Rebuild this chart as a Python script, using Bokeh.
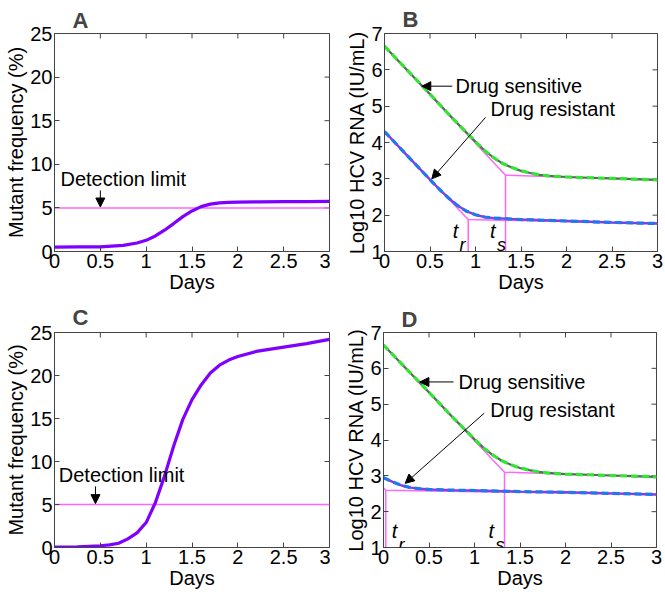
import math
from bokeh.plotting import figure
from bokeh.layouts import column, row
from bokeh.models import Range1d, FixedTicker, Label, Arrow, NormalHead
from bokeh.embed import file_html
from bokeh.resources import INLINE

# ---------------- data ----------------
x_ticks = [0, 0.5, 1, 1.5, 2, 2.5, 3]
x_tick_labels = ["0", "0.5", "1", "1.5", "2", "2.5", "3"]
freq_ticks = [0, 5, 10, 15, 20, 25]
rna_ticks = [1, 2, 3, 4, 5, 6, 7]

detection_limit = 5

days_A = [0, 0.25, 0.5, 0.75, 0.9, 1.0, 1.1, 1.2, 1.3, 1.4, 1.5, 1.6, 1.7, 1.8, 1.9, 2.0, 2.25, 2.5, 2.75, 3.0]
freq_A = [0.5, 0.52, 0.54, 0.7, 0.97, 1.28, 1.78, 2.44, 3.2, 4.0, 4.65, 5.15, 5.43, 5.58, 5.63, 5.66, 5.69, 5.71, 5.73, 5.74]

days_C = [0, 0.25, 0.5, 0.6, 0.7, 0.8, 0.9, 1.0, 1.1, 1.2, 1.3, 1.4, 1.5, 1.6, 1.7, 1.8, 1.9, 2.0, 2.2, 2.5, 2.75, 3.0]
freq_C = [0.05, 0.08, 0.2, 0.3, 0.5, 1.0, 1.7, 2.9, 5.2, 8.3, 11.8, 14.9, 17.2, 18.9, 20.3, 21.2, 21.8, 22.2, 22.8, 23.3, 23.7, 24.2]

days_sens = [0, 0.25, 0.5, 0.75, 1.0, 1.1, 1.2, 1.3, 1.4, 1.5, 1.6, 1.7, 1.8, 2.0, 2.25, 2.5, 2.75, 3.0]
rna_sens = [6.65, 5.99, 5.33, 4.66, 4.02, 3.78, 3.58, 3.42, 3.31, 3.22, 3.16, 3.11, 3.08, 3.05, 3.03, 3.01, 2.99, 2.97]

days_res_B = [0, 0.25, 0.5, 0.6, 0.7, 0.8, 0.9, 1.0, 1.1, 1.2, 1.35, 1.5, 1.75, 2.0, 2.5, 3.0]
rna_res_B = [4.3, 3.64, 2.98, 2.72, 2.48, 2.27, 2.11, 2.01, 1.95, 1.92, 1.9, 1.88, 1.86, 1.84, 1.8, 1.77]

days_res_D = [0, 0.1, 0.2, 0.3, 0.4, 0.5, 0.75, 1.0, 1.5, 2.0, 2.5, 3.0]
rna_res_D = [2.95, 2.83, 2.73, 2.67, 2.64, 2.62, 2.6, 2.59, 2.56, 2.54, 2.51, 2.48]

# piecewise approximations (pink)
approx_sens_x = [0, 1.33, 3]
approx_sens_y = [6.65, 3.1, 2.97]
ts = 1.33
approx_res_B_x = [0, 0.92, 3]
approx_res_B_y = [4.3, 1.88, 1.77]
tr_B = 0.92
approx_res_D_x = [0, 0.025, 3]
approx_res_D_y = [2.67, 2.6, 2.48]
tr_D = 0.025

# ---------------- style ----------------
FONT = "Liberation Sans"
FS = "20px"
PURPLE = "#7f00ff"
PINK = "#ff66ff"
GREEN = "#33e633"
BLUE = "#2277ee"
AXC = "#444444"


def make_fig(letter, standoff, width, height, left, right, top, bottom, yr, yticks, ylabel):
    p = figure(width=width, height=height, output_backend="svg", toolbar_location=None,
               x_range=Range1d(0, 3), y_range=Range1d(*yr),
               min_border_left=left, min_border_right=right,
               min_border_top=top, min_border_bottom=bottom)
    p.grid.visible = False
    p.outline_line_color = AXC
    p.background_fill_color = "white"
    p.border_fill_color = "white"
    p.title.text = letter
    p.title.text_font = FONT
    p.title.text_font_size = "22px"
    p.title.text_font_style = "bold"
    p.title.align = "left"
    p.title.offset = 18
    p.title.standoff = standoff
    p.xaxis.ticker = FixedTicker(ticks=x_ticks)
    p.yaxis.ticker = FixedTicker(ticks=yticks)
    p.xaxis.major_label_overrides = {t: l for t, l in zip(x_ticks, x_tick_labels)}
    p.xaxis.axis_label = "Days"
    p.yaxis.axis_label = ylabel
    for ax in (p.xaxis[0], p.yaxis[0]):
        ax.major_tick_in = 5
        ax.major_tick_out = 0
        ax.minor_tick_in = 0
        ax.minor_tick_out = 0
        ax.axis_line_color = AXC
        ax.major_tick_line_color = AXC
        ax.major_label_text_font = FONT
        ax.major_label_text_font_size = FS
        ax.major_label_text_color = "black"
        ax.axis_label_text_font = FONT
        ax.axis_label_text_font_size = FS
        ax.axis_label_text_font_style = "normal"
        ax.axis_label_text_color = "black"
        ax.major_label_standoff = 2
        ax.axis_label_standoff = 0
    # inward ticks on the top and right edges of the box (clipped to the frame)
    p.scatter(x=x_ticks, y=[yr[1]] * len(x_ticks), marker="dash", angle=math.pi / 2,
              size=10, line_color=AXC, line_width=1)
    p.scatter(x=[3] * len(yticks), y=yticks, marker="dash", size=10,
              line_color=AXC, line_width=1)
    return p


def label(p, x, y, text, size=FS, style="normal", align="left"):
    p.add_layout(Label(x=x, y=y, text=text, text_font=FONT, text_font_size=size,
                       text_font_style=style, text_align=align, text_baseline="middle",
                       text_color="black"))


def arrow(p, x0, y0, x1, y1):
    p.add_layout(Arrow(end=NormalHead(size=9, fill_color="black", line_color="black"),
                       x_start=x0, y_start=y0, x_end=x1, y_end=y1,
                       line_color="black", line_width=1))


def freq_panel(letter, standoff, width, height, left, right, top, bottom, xs, ys, txt_xy, arr):
    p = make_fig(letter, standoff, width, height, left, right, top, bottom, (0, 25), freq_ticks,
                 "Mutant frequency (%)")
    p.line([0, 3], [detection_limit, detection_limit], line_color=PINK, line_width=1.5)
    p.line(xs, ys, line_color=PURPLE, line_width=3.2)
    label(p, txt_xy[0], txt_xy[1], "Detection limit")
    arrow(p, *arr)
    return p


def rna_panel(letter, standoff, width, height, left, right, top, bottom,
              rx, ry, ax_r, ay_r, tr, tr_y, tr_lbl, ts_lbl, sens_txt, sens_arr, res_txt, res_arr):
    p = make_fig(letter, standoff, width, height, left, right, top, bottom, (1, 7), rna_ticks,
                 "Log10 HCV RNA (IU/mL)")
    # pink piecewise approximations
    p.line(approx_sens_x, approx_sens_y, line_color=PINK, line_width=1.5)
    p.line([ts, ts], [1, approx_sens_y[1]], line_color=PINK, line_width=1.5)
    p.line(ax_r, ay_r, line_color=PINK, line_width=1.5)
    p.line([tr, tr], [1, tr_y], line_color=PINK, line_width=1.5)
    # model curves
    p.line(days_sens, rna_sens, line_color="#5a6a5a", line_width=2.2)
    p.line(days_sens, rna_sens, line_color=GREEN, line_width=3.2, line_dash="7 4")
    p.line(rx, ry, line_color="#8a3be0", line_width=2.4)
    p.line(rx, ry, line_color=BLUE, line_width=3.2, line_dash="7 4")
    # t_r and t_s labels
    label(p, tr_lbl[0], tr_lbl[1], "t", style="italic")
    label(p, tr_lbl[0] + 0.075, tr_lbl[1] - 0.38, "r", size="18px", style="italic")
    label(p, ts_lbl[0], ts_lbl[1], "t", style="italic")
    label(p, ts_lbl[0] + 0.075, ts_lbl[1] - 0.38, "s", size="18px", style="italic")
    label(p, sens_txt[0], sens_txt[1], "Drug sensitive")
    arrow(p, *sens_arr)
    label(p, res_txt[0], res_txt[1], "Drug resistant")
    arrow(p, *res_arr)
    return p


pA = freq_panel("A", 1, 330, 300, 54, 1, 33, 47, days_A, freq_A,
                (0.065, 8.3), (0.5, 7.0, 0.5, 5.1))
pB = rna_panel("B", 4, 333, 300, 54, 6, 30, 49, days_res_B, rna_res_B,
               approx_res_B_x, approx_res_B_y, tr_B, approx_res_B_y[1],
               (0.75, 1.56), (1.16, 1.56),
               (0.78, 5.55), (0.745, 5.55, 0.41, 5.55),
               (1.166, 4.92), (1.11, 4.69, 0.52, 3.0))
pC = freq_panel("C", 5, 330, 302, 54, 1, 32, 54, days_C, freq_C,
                (0.047, 8.45), (0.447, 7.1, 0.447, 5.1))
pD = rna_panel("D", 2, 333, 302, 53, 7, 28, 55, days_res_D, rna_res_D,
               approx_res_D_x, approx_res_D_y, tr_D, approx_res_D_y[1],
               (0.09, 1.46), (1.155, 1.46),
               (0.825, 5.62), (0.77, 5.62, 0.40, 5.62),
               (1.173, 4.85), (1.107, 4.75, 0.238, 2.79))

layout = column(row(pA, pB), row(pC, pD))
open("out.html", "w").write(file_html(layout, INLINE))
